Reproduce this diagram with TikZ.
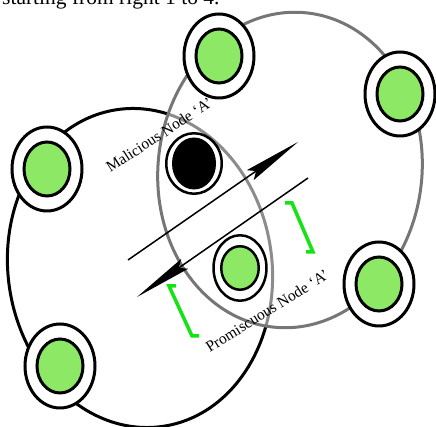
\documentclass[tikz,border=0pt]{standalone}
\usepackage{fontspec}
\setmainfont{Liberation Serif}
\usetikzlibrary{shapes.geometric,arrows.meta}
\definecolor{hostgreen}{RGB}{141,233,101}
\definecolor{markgreen}{RGB}{20,228,20}
\definecolor{rangegray}{RGB}{118,118,118}
\tikzset{
  ring/.style={ellipse,draw,line width=3pt,fill=white,minimum width=70pt,minimum height=84pt,inner sep=0pt},
  core/.style={ellipse,draw,line width=3pt,fill=hostgreen,minimum width=46pt,minimum height=54pt,inner sep=0pt},
  bracket/.style={markgreen,line width=3.5pt},
  tag/.style={font=\fontsize{15.5}{18}\selectfont,inner sep=0pt},
  flow/.style={line width=1.5pt,-{Stealth[length=58pt,width=12pt,inset=7pt]}}
}
\begin{document}
\begin{tikzpicture}[x=1pt,y=1pt]
\useasboundingbox (0,0) rectangle (436,427);
\node[anchor=base west,font=\fontsize{21.5}{24}\selectfont,inner sep=0pt] (caption) at (2,422.5) {starting from right 1 to 4.};
\draw[line width=3pt,rotate around={8:(140,159)}] (140,159) ellipse [x radius=132,y radius=160];
\draw[rangegray,line width=3pt,fill=white,fill opacity=0.55,rotate around={-6:(290,257)}] (290,257) ellipse [x radius=132,y radius=158];
\coordinate (fwds) at (128,167);
\coordinate (fwde) at (298,285);
\coordinate (backs) at (308,249);
\coordinate (backe) at (137,130);
\draw[flow] (fwds) -- (fwde);
\draw[flow] (backs) -- (backe);
\draw[bracket] (285,224) -- (292,224) -- (313,175) -- (306,175);
\draw[bracket] (176,141) -- (169,141) -- (192,91) -- (199,91);
\node[tag,rotate=33] (maltext) at (159,292) {Malicious Node ‘A’};
\node[tag,rotate=32] (promtext) at (267,116) {Promiscuous Node ‘A’};
\node[ring] (h1) at (219,371) {};
\node[core] (h1c) at (h1) {};
\node[ring] (h2) at (400,333) {};
\node[core] (h2c) at (h2) {};
\node[ring] (h3) at (379,143) {};
\node[core] (h3c) at (h3) {};
\node[ring] (h4) at (47,258) {};
\node[core] (h4c) at (h4) {};
\node[ring] (h5) at (60,61) {};
\node[core] (h5c) at (h5) {};
\node[ring,line width=2.5pt,minimum width=55.5pt,minimum height=60.5pt] (mal) at (194,263.5) {};
\node[core,fill=black,line width=2.5pt,minimum width=41.5pt,minimum height=49.5pt] (malc) at (mal) {};
\node[ring,line width=2.5pt,minimum width=53pt,minimum height=65.5pt] (prom) at (240,159) {};
\node[core,line width=2.5pt,minimum width=37.5pt,minimum height=43.5pt] (promc) at (prom) {};
\end{tikzpicture}
\end{document}
